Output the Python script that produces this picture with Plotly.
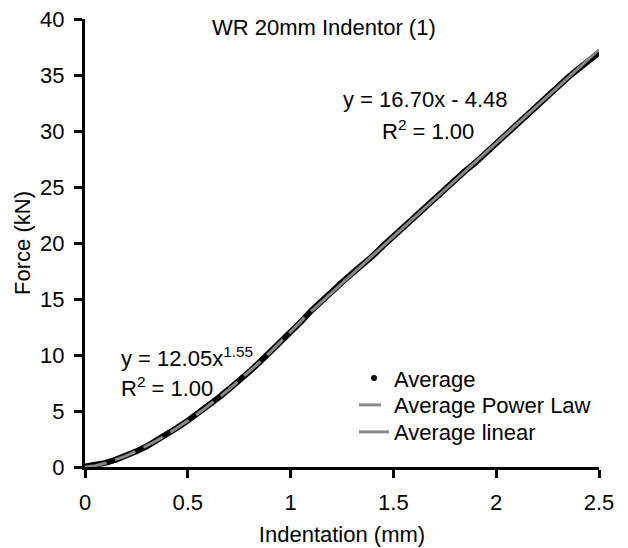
import plotly.graph_objects as go

avg_x = [0.00, 0.05, 0.10, 0.15, 0.20, 0.25, 0.30, 0.35, 0.40, 0.45,
         0.50, 0.55, 0.60, 0.65, 0.70, 0.75, 0.80, 0.85, 0.90, 0.95,
         1.00, 1.05, 1.10, 1.15, 1.20, 1.25, 1.30, 1.35, 1.40, 1.45,
         1.50, 1.55, 1.60, 1.65, 1.70, 1.75, 1.80, 1.85, 1.90, 1.95,
         2.00, 2.05, 2.10, 2.15, 2.20, 2.25, 2.30, 2.35, 2.40, 2.45, 2.50]
avg_y = [0.05, 0.15, 0.37, 0.66, 1.00, 1.40, 1.85, 2.36, 2.92, 3.52,
         4.14, 4.80, 5.47, 6.20, 6.95, 7.70, 8.52, 9.38, 10.25, 11.12,
         12.02, 12.95, 13.95, 14.85, 15.75, 16.50, 17.30, 18.00, 18.85, 19.75,
         20.60, 21.40, 22.20, 23.10, 23.95, 24.70, 25.55, 26.45, 27.20, 28.05,
         28.95, 29.75, 30.55, 31.45, 32.30, 33.05, 33.90, 34.80, 35.55, 36.35, 37.00]

# Power law trendline
pow_x = [0.00, 0.05, 0.10, 0.15, 0.20, 0.25, 0.30, 0.35, 0.40, 0.45, 0.50,
         0.55, 0.60, 0.65, 0.70, 0.75, 0.80, 0.85, 0.90, 0.95, 1.00, 1.05, 1.10]
pow_y = [0.00, 0.12, 0.34, 0.64, 0.99, 1.41, 1.86, 2.37, 2.91, 3.50, 4.12,
         4.77, 5.46, 6.18, 6.93, 7.72, 8.53, 9.37, 10.23, 11.13, 12.05, 13.00, 13.97]

# Linear trendline
lin_x = [1.10, 2.50]
lin_y = [13.89, 37.27]

x_ticks = [0, 0.5, 1, 1.5, 2, 2.5]
y_ticks = [0, 5, 10, 15, 20, 25, 30, 35, 40]

FONT = "Liberation Sans, Arial, sans-serif"
FS = 22

W, H = 628, 548
ML, MR, MT, MB = 85, 29, 18.5, 81
PW = W - ML - MR
PH = H - MT - MB
Y0 = H - MB  # pixel row of y=0

fig = go.Figure()
fig.add_trace(go.Scatter(x=avg_x, y=avg_y, mode="lines",
                         line=dict(color="black", width=6), showlegend=False,
                         hoverinfo="skip"))
fig.add_trace(go.Scatter(x=[None], y=[None], mode="markers", name="Average",
                         marker=dict(color="black", size=6), legend="legend"))
fig.add_trace(go.Scatter(x=pow_x, y=pow_y, mode="lines", name="Average Power Law",
                         line=dict(color="#888888", width=3, dash="22px,9px"),
                         legend="legend2"))
fig.add_trace(go.Scatter(x=lin_x, y=lin_y, mode="lines", name="Average linear",
                         line=dict(color="#888888", width=3), legend="legend3"))

axis_common = dict(showgrid=False, zeroline=False, showline=True, linecolor="black",
                   linewidth=3, ticks="outside", ticklen=8, tickwidth=3,
                   tickcolor="black", automargin=False,
                   tickfont=dict(family=FONT, size=FS, color="black"))


def leg(row_center):
    return dict(x=(354 - ML) / PW, y=(Y0 - (row_center - 23)) / PH,
                xanchor="left", yanchor="top", bgcolor="rgba(0,0,0,0)",
                font=dict(family=FONT, size=FS, color="black"), itemwidth=30)


fig.update_layout(
    width=W, height=H,
    margin=dict(l=ML, r=MR, t=MT, b=MB),
    paper_bgcolor="white", plot_bgcolor="white",
    font=dict(family=FONT, size=FS, color="black"),
    showlegend=True,
    legend=leg(380), legend2=leg(407), legend3=leg(434),
    xaxis=dict(range=[0, 2.5], tickvals=x_ticks, ticktext=[str(v) for v in x_ticks],
               ticklabelstandoff=6,
               title=dict(text="Indentation (mm)", standoff=13,
                          font=dict(family=FONT, size=FS, color="black")),
               **axis_common),
    yaxis=dict(range=[0, 40], tickvals=y_ticks, ticklabelstandoff=5,
               title=dict(text="Force (kN)", standoff=4,
                          font=dict(family=FONT, size=FS, color="black")),
               **axis_common),
    annotations=[
        dict(text="WR 20mm Indentor (1)", x=(324 - ML) / PW,
             y=(Y0 - 27) / PH, xref="paper", yref="paper",
             showarrow=False, xanchor="center", yanchor="middle"),
        dict(text="y = 16.70x - 4.48", x=1.655, y=32.77, xref="x", yref="y",
             showarrow=False, xanchor="center", yanchor="middle"),
        dict(text="R<sup>2</sup> = 1.00", x=1.67, y=30.1, xref="x", yref="y",
             showarrow=False, xanchor="center", yanchor="middle"),
        dict(text="y = 12.05x<sup>1.55</sup>", x=0.167, y=9.82, xref="x", yref="y",
             showarrow=False, xanchor="left", yanchor="middle"),
        dict(text="R<sup>2</sup> = 1.00", x=0.167, y=7.17, xref="x", yref="y",
             showarrow=False, xanchor="left", yanchor="middle"),
    ],
)

fig.write_html("out.html")
